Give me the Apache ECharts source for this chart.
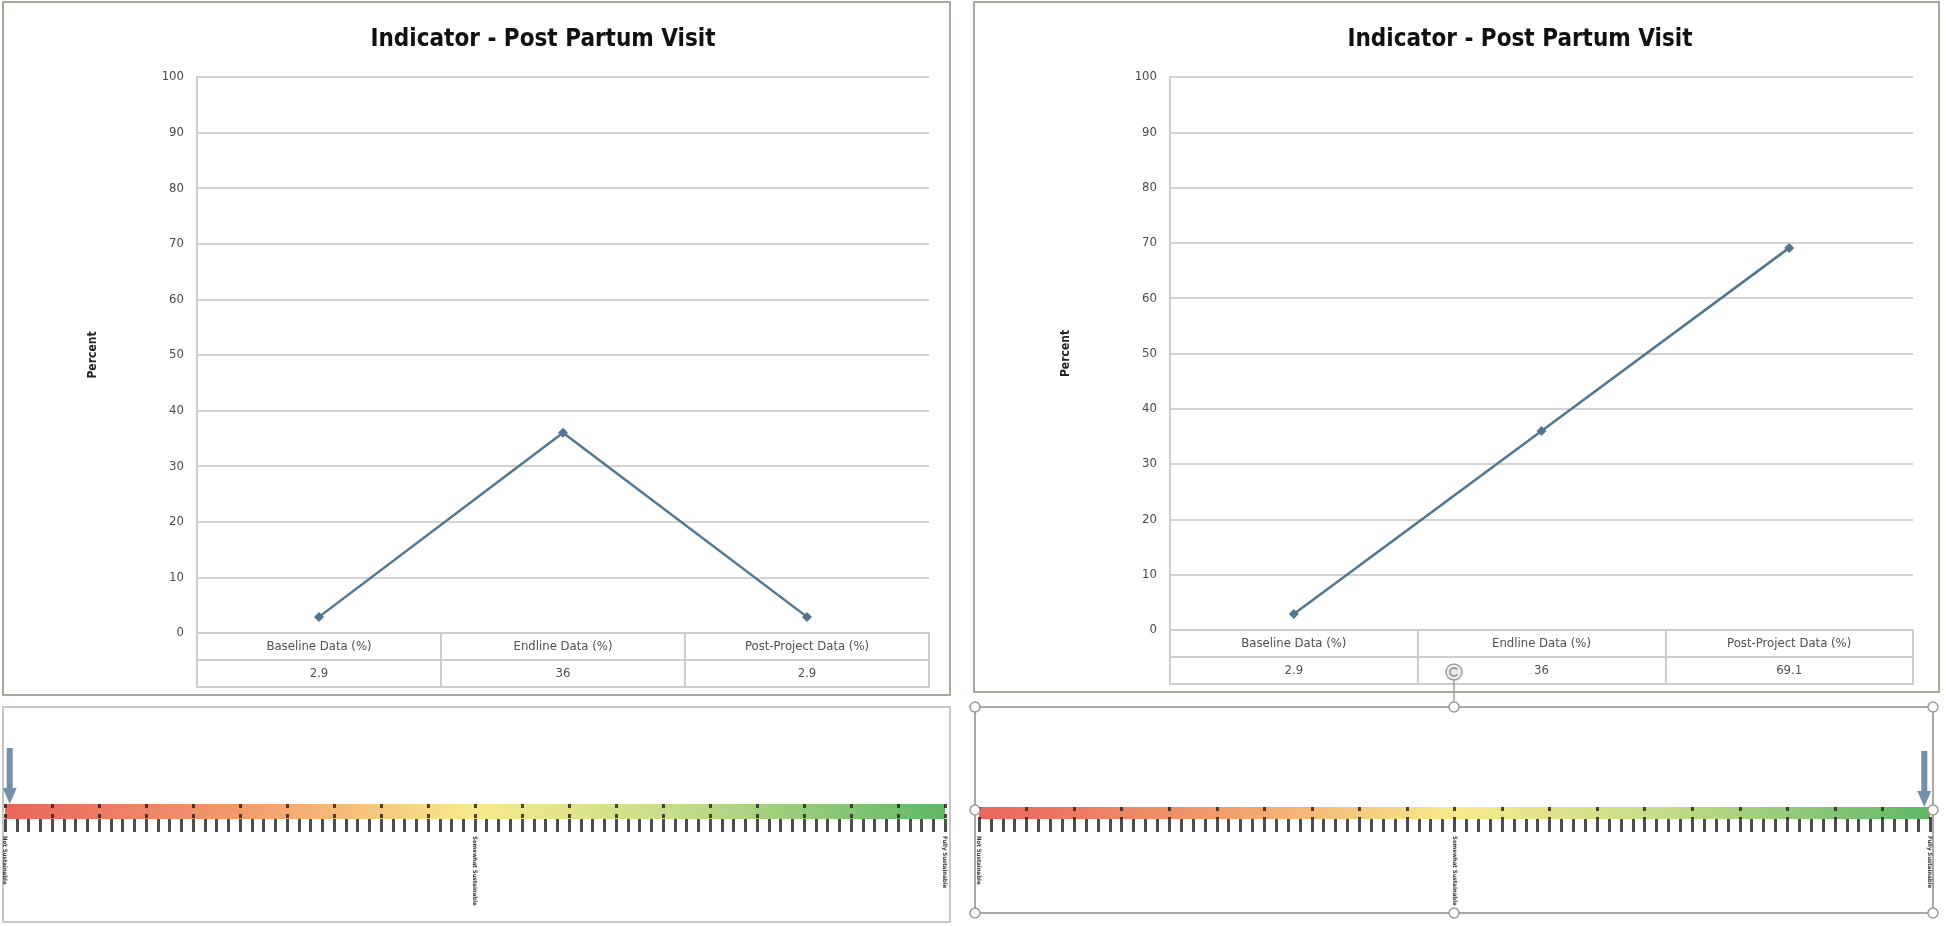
<!DOCTYPE html>
<html><head><meta charset="utf-8">
<script src="https://cdn.jsdelivr.net/npm/echarts/dist/echarts.min.js"></script>
<style>html,body{margin:0;padding:0;background:#fff}#c{width:1946px;height:926px}</style>
</head><body><div id="c"></div>
<script>
// ---- data ----
const chartTitle = 'Indicator - Post Partum Visit';
const yAxisName = 'Percent';
const categories = ['Baseline Data (%)', 'Endline Data (%)', 'Post-Project Data (%)'];
const leftValues = [2.9, 36, 2.9];
const rightValues = [2.9, 36, 69.1];
const yMin = 0, yMax = 100, yStep = 10;
const scaleMin = 0, scaleMax = 100, scaleStep = 5;
const scaleLabelValues = [0, 50, 100];
const scaleLabels = ['Not Sustainable', 'Somewhat Sustainable', 'Fully Sustainable'];
const leftArrowValue = 0.5;
const rightArrowValue = 99.4;

// ---- styles ----
const FONT = "'Liberation Sans Narrow', 'DejaVu Sans Condensed', 'Liberation Sans', sans-serif";
const lineColor = '#52768f';
const gridGrey = '#d3d3d3';
const tableGrey = '#cdcdcd';

const chart = echarts.init(document.getElementById('c'));

function lineXAxes(g) {
  return [
    { type: 'category', gridIndex: g, data: categories, boundaryGap: true,
      axisLine: { lineStyle: { color: tableGrey, width: 2 } },
      axisTick: { show: true, length: 54, interval: 0, lineStyle: { color: tableGrey, width: 2 } },
      axisLabel: { interval: 0, margin: 0, fontFamily: FONT,
        formatter: (v, i) => '{a|' + v + '}\n{b|' + (g === 0 ? leftValues : rightValues)[i] + '}',
        rich: { a: { fontSize: 13, lineHeight: 27, color: '#505050', fontFamily: FONT },
                b: { fontSize: 13, lineHeight: 27, color: '#505050', fontFamily: FONT } } } },
    { type: 'category', gridIndex: g, data: categories, position: 'bottom', offset: 27,
      axisLine: { lineStyle: { color: tableGrey, width: 2 } }, axisTick: { show: false }, axisLabel: { show: false } },
    { type: 'category', gridIndex: g, data: categories, position: 'bottom', offset: 54,
      axisLine: { lineStyle: { color: tableGrey, width: 2 } }, axisTick: { show: false }, axisLabel: { show: false } }
  ];
}
function lineYAxis(g) {
  return { type: 'value', gridIndex: g, min: yMin, max: yMax, interval: yStep,
    axisLine: { show: true, lineStyle: { color: tableGrey, width: 2 } },
    axisTick: { show: false },
    splitLine: { lineStyle: { color: gridGrey, width: 2 } },
    axisLabel: { fontSize: 13, color: '#4a4a4a', margin: 13, fontFamily: FONT },
    name: yAxisName, nameLocation: 'middle', nameRotate: 90, nameGap: 98,
    nameTextStyle: { fontWeight: 'bold', fontSize: 12, color: '#222', fontFamily: FONT } };
}
function scaleXAxes(g) {
  return [
    { type: 'value', gridIndex: g, min: scaleMin, max: scaleMax, interval: scaleStep, position: 'bottom',
      axisLine: { show: false },
      axisTick: { show: true, length: 13, lineStyle: { color: '#4d4d4d', width: 3 } },
      minorTick: { show: true, splitNumber: 4, length: 13, lineStyle: { color: '#4d4d4d', width: 3 } },
      splitLine: { show: false },
      axisLabel: { show: true, customValues: scaleLabelValues, showMinLabel: true, showMaxLabel: true,
        rotate: -90, fontSize: 6, fontWeight: 'bold', margin: 17, color: '#3a3a3a', fontFamily: FONT,
        formatter: v => scaleLabels[scaleLabelValues.indexOf(v)] } },
    { type: 'value', gridIndex: g, min: scaleMin, max: scaleMax, interval: scaleStep, position: 'top', z: 5,
      axisLine: { show: false }, axisTick: { show: false }, axisLabel: { show: false },
      splitLine: { show: true, lineStyle: { color: 'rgba(50,35,30,0.85)', width: 3, type: [4, 6] } } }
  ];
}
const gradient = new echarts.graphic.LinearGradient(0, 0, 1, 0, [
  { offset: 0, color: '#e8665a' }, { offset: 0.25, color: '#f29a6c' },
  { offset: 0.5, color: '#f8ea8c' }, { offset: 0.72, color: '#c3dc8a' },
  { offset: 1, color: '#5fb865' }
]);
const arrowPath = 'path://M4,0 L10,0 L10,40 L14,40 L7,56 L0,40 L4,40 Z';

function handles() {
  const els = [];
  [975, 1454, 1933].forEach(x => [707, 810, 913].forEach(y => {
    if (x === 1454 && y === 810) return;
    els.push({ type: 'circle', shape: { cx: x, cy: y, r: 5 }, style: { fill: '#fff', stroke: '#9a9a9a', lineWidth: 1.5 }, z: 20 });
  }));
  return els;
}

chart.setOption({
  animation: false,
  backgroundColor: '#fff',
  title: [
    { text: chartTitle, left: 538, top: 23, textAlign: 'center',
      textStyle: { fontSize: 24, fontWeight: 'bold', color: '#111', fontFamily: FONT } },
    { text: chartTitle, left: 1515, top: 23, textAlign: 'center',
      textStyle: { fontSize: 24, fontWeight: 'bold', color: '#111', fontFamily: FONT } }
  ],
  grid: [
    { left: 197, top: 77, width: 732, height: 556 },
    { left: 1170, top: 77, width: 743, height: 553 },
    { left: 5, top: 804, width: 940, height: 15 },
    { left: 979, top: 807, width: 951, height: 12 }
  ],
  xAxis: [].concat(lineXAxes(0), lineXAxes(1), scaleXAxes(2), scaleXAxes(3)),
  yAxis: [
    lineYAxis(0), lineYAxis(1),
    { type: 'category', gridIndex: 2, data: ['scale'], show: false },
    { type: 'category', gridIndex: 3, data: ['scale'], show: false }
  ],
  series: [
    { type: 'line', xAxisIndex: 0, yAxisIndex: 0, data: leftValues, color: lineColor,
      lineStyle: { width: 2.5, color: lineColor }, symbol: 'diamond', symbolSize: 10, itemStyle: { color: lineColor } },
    { type: 'line', xAxisIndex: 3, yAxisIndex: 1, data: rightValues, color: lineColor,
      lineStyle: { width: 2.5, color: lineColor }, symbol: 'diamond', symbolSize: 10, itemStyle: { color: lineColor } },
    { type: 'bar', xAxisIndex: 6, yAxisIndex: 2, data: [scaleMax], barWidth: '100%', itemStyle: { color: gradient } },
    { type: 'bar', xAxisIndex: 8, yAxisIndex: 3, data: [scaleMax], barWidth: '100%', itemStyle: { color: gradient } },
    { type: 'scatter', xAxisIndex: 6, yAxisIndex: 2, data: [[leftArrowValue, 0]], symbol: arrowPath,
      symbolSize: [14, 56], symbolOffset: [0, -35.5], itemStyle: { color: '#5a7d9c', opacity: 0.85 }, z: 10 },
    { type: 'scatter', xAxisIndex: 8, yAxisIndex: 3, data: [[rightArrowValue, 0]], symbol: arrowPath,
      symbolSize: [14, 56], symbolOffset: [0, -34], itemStyle: { color: '#5a7d9c', opacity: 0.85 }, z: 10 }
  ],
  graphic: [
    { type: 'rect', shape: { x: 3, y: 2, width: 947, height: 693 }, style: { fill: 'none', stroke: '#a6a898', lineWidth: 2 }, z: 0 },
    { type: 'rect', shape: { x: 974, y: 2, width: 965, height: 690 }, style: { fill: 'none', stroke: '#a6a898', lineWidth: 2 }, z: 0 },
    { type: 'rect', shape: { x: 3, y: 707, width: 947, height: 215 }, style: { fill: 'none', stroke: '#c6c6c6', lineWidth: 2 }, z: 0 },
    { type: 'rect', shape: { x: 975, y: 707, width: 958, height: 206 }, style: { fill: 'none', stroke: '#a8a8a8', lineWidth: 2 }, z: 0 },
    { type: 'line', shape: { x1: 1454, y1: 680, x2: 1454, y2: 702 }, style: { stroke: '#a0a0a0', lineWidth: 1.5 }, z: 20 },
    { type: 'circle', shape: { cx: 1454, cy: 672, r: 8 }, style: { fill: '#ececec', stroke: '#a0a0a0', lineWidth: 1.5 }, z: 20 },
    { type: 'arc', shape: { cx: 1454, cy: 672, r: 4, startAngle: 0.6, endAngle: 5.6 }, style: { fill: 'none', stroke: '#8a8a8a', lineWidth: 1.5 }, z: 21 }
  ].concat(handles())
});
</script></body></html>
